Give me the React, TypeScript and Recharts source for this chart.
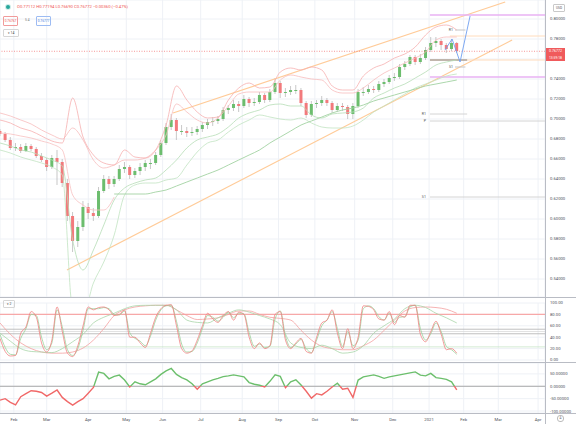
import React from 'react';
import {
  ComposedChart,
  Line,
  Bar,
  XAxis,
  YAxis,
  CartesianGrid,
  ReferenceLine
} from 'recharts';

const W = 576;
const FONT = 'Roboto, "Liberation Sans", sans-serif';

// 3-day candles, trading-day index t = 0, 3, ... 264 (late Jan 2020 -> late Jan 2021)
const opens = [
  0.688, 0.685, 0.679, 0.671, 0.672, 0.668, 0.673, 0.670, 0.663, 0.659,
  0.652, 0.661, 0.657, 0.636, 0.603, 0.578, 0.592, 0.612, 0.606, 0.603,
  0.628, 0.640, 0.635, 0.640, 0.650, 0.652, 0.644, 0.648, 0.652, 0.656,
  0.656, 0.664, 0.676, 0.692, 0.699, 0.688, 0.688, 0.686, 0.687, 0.690,
  0.694, 0.697, 0.698, 0.700, 0.709, 0.711, 0.715, 0.713, 0.720, 0.716,
  0.717, 0.724, 0.719, 0.727, 0.736, 0.726, 0.727, 0.729, 0.729, 0.716,
  0.704, 0.715, 0.716, 0.719, 0.716, 0.709, 0.713, 0.712, 0.705, 0.713,
  0.727, 0.727, 0.730, 0.729, 0.735, 0.737, 0.741, 0.742, 0.752, 0.755,
  0.762, 0.757, 0.761, 0.769, 0.776, 0.778, 0.774, 0.770, 0.776
];
const highs = [
  0.690, 0.687, 0.682, 0.676, 0.675, 0.676, 0.675, 0.672, 0.666, 0.661,
  0.664, 0.669, 0.660, 0.640, 0.607, 0.598, 0.618, 0.616, 0.611, 0.632,
  0.644, 0.643, 0.643, 0.654, 0.657, 0.654, 0.651, 0.656, 0.659, 0.660,
  0.667, 0.679, 0.696, 0.705, 0.701, 0.694, 0.692, 0.692, 0.693, 0.697,
  0.700, 0.702, 0.703, 0.712, 0.714, 0.719, 0.718, 0.724, 0.722, 0.721,
  0.727, 0.726, 0.730, 0.741, 0.738, 0.731, 0.733, 0.734, 0.731, 0.718,
  0.718, 0.719, 0.723, 0.721, 0.718, 0.716, 0.716, 0.714, 0.716, 0.730,
  0.732, 0.734, 0.733, 0.738, 0.740, 0.744, 0.746, 0.755, 0.758, 0.764,
  0.764, 0.765, 0.772, 0.782, 0.782, 0.780, 0.776, 0.780, 0.777
];
const lows = [
  0.683, 0.677, 0.669, 0.668, 0.666, 0.667, 0.668, 0.661, 0.657, 0.648,
  0.650, 0.634, 0.632, 0.598, 0.567, 0.572, 0.588, 0.600, 0.598, 0.601,
  0.626, 0.630, 0.632, 0.638, 0.646, 0.640, 0.641, 0.644, 0.648, 0.650,
  0.654, 0.662, 0.674, 0.689, 0.679, 0.684, 0.682, 0.683, 0.684, 0.687,
  0.690, 0.693, 0.695, 0.698, 0.705, 0.708, 0.707, 0.711, 0.712, 0.713,
  0.715, 0.716, 0.717, 0.725, 0.721, 0.722, 0.724, 0.725, 0.713, 0.701,
  0.702, 0.711, 0.713, 0.713, 0.706, 0.707, 0.708, 0.700, 0.700, 0.711,
  0.723, 0.725, 0.726, 0.727, 0.732, 0.735, 0.738, 0.740, 0.749, 0.753,
  0.754, 0.755, 0.759, 0.767, 0.772, 0.769, 0.766, 0.768, 0.766
];
const closes = [
  0.685, 0.679, 0.671, 0.672, 0.668, 0.673, 0.670, 0.663, 0.659, 0.652,
  0.661, 0.657, 0.636, 0.603, 0.578, 0.592, 0.612, 0.606, 0.603, 0.628,
  0.640, 0.635, 0.640, 0.650, 0.652, 0.644, 0.648, 0.652, 0.656, 0.656,
  0.664, 0.676, 0.692, 0.699, 0.688, 0.688, 0.686, 0.687, 0.690, 0.694,
  0.697, 0.698, 0.700, 0.709, 0.711, 0.715, 0.713, 0.720, 0.716, 0.717,
  0.724, 0.719, 0.727, 0.736, 0.726, 0.727, 0.729, 0.729, 0.716, 0.704,
  0.715, 0.716, 0.719, 0.716, 0.709, 0.713, 0.712, 0.705, 0.713, 0.727,
  0.727, 0.730, 0.729, 0.735, 0.737, 0.741, 0.742, 0.752, 0.755, 0.762,
  0.757, 0.761, 0.769, 0.776, 0.778, 0.774, 0.770, 0.776, 0.768
];

// band lines, one value every 6 trading days (t = 0, 6, ... 264)
const upperA = [
  0.706, 0.703, 0.699, 0.695, 0.689, 0.684, 0.680, 0.691, 0.679, 0.659,
  0.651, 0.654, 0.659, 0.659, 0.661, 0.669, 0.684, 0.715, 0.707, 0.699,
  0.696, 0.701, 0.713, 0.725, 0.727, 0.727, 0.727, 0.739, 0.744, 0.742,
  0.740, 0.739, 0.729, 0.726, 0.726, 0.731, 0.739, 0.746, 0.751, 0.756,
  0.761, 0.767, 0.779, 0.782, 0.782
];
const upperB = [
  0.699, 0.696, 0.691, 0.688, 0.683, 0.678, 0.676, 0.721, 0.682, 0.664,
  0.656, 0.654, 0.669, 0.662, 0.661, 0.669, 0.694, 0.733, 0.719, 0.707,
  0.701, 0.702, 0.719, 0.731, 0.736, 0.731, 0.732, 0.747, 0.751, 0.749,
  0.752, 0.749, 0.733, 0.729, 0.729, 0.743, 0.751, 0.755, 0.761, 0.765,
  0.772, 0.784, 0.792, 0.794, 0.789
];
// t = 0 .. 66
const midRed = [0.686, 0.685, 0.683, 0.681, 0.678, 0.675, 0.669, 0.624, 0.614, 0.609, 0.609, 0.622];
const lowerA = [
  0.676, 0.673, 0.669, 0.667, 0.663, 0.659, 0.653, 0.579, 0.549, 0.569,
  0.594, 0.619, 0.631, 0.636, 0.639, 0.641, 0.649, 0.659, 0.671, 0.679,
  0.682, 0.685, 0.692, 0.701, 0.706, 0.709, 0.714, 0.715, 0.713, 0.713,
  0.704, 0.701, 0.705, 0.706, 0.707, 0.711, 0.721, 0.726, 0.731, 0.735,
  0.741, 0.747, 0.754, 0.757, 0.759
];
const lowerB = [
  0.669, 0.666, 0.662, 0.659, 0.656, 0.652, 0.644, 0.510, 0.505, 0.536,
  0.557, 0.584, 0.624, 0.634, 0.636, 0.636, 0.639, 0.641, 0.654, 0.667,
  0.676, 0.679, 0.687, 0.694, 0.699, 0.704, 0.702, 0.700, 0.699, 0.701,
  0.696, 0.692, 0.691, 0.691, 0.693, 0.699, 0.707, 0.713, 0.719, 0.725,
  0.731, 0.735, 0.739, 0.743, 0.745
];
// t = 66 .. 264
const longAvg = [
  0.625, 0.625, 0.625, 0.625, 0.627, 0.629, 0.633, 0.637, 0.641, 0.645,
  0.649, 0.654, 0.659, 0.664, 0.669, 0.676, 0.682, 0.688, 0.694, 0.698,
  0.702, 0.706, 0.709, 0.711, 0.714, 0.718, 0.721, 0.724, 0.727, 0.730,
  0.733, 0.735, 0.737, 0.739
];

// stochastic pane, fast lines every 3 days, slow lines every 6 days
const kRed = [
  38, 15, 7, 8, 47, 58, 85, 75, 30, 14,
  35, 93, 50, 12, 6, 25, 60, 93, 88, 92,
  93, 88, 78, 80, 88, 40, 40, 30, 22, 47,
  75, 90, 96, 97, 60, 20, 12, 16, 35, 60,
  82, 72, 66, 78, 85, 70, 84, 80, 40, 20,
  30, 20, 25, 80, 85, 35, 20, 30, 38, 15,
  12, 40, 65, 70, 88, 47, 20, 55, 20, 40,
  95, 94, 88, 72, 70, 85, 62, 78, 75, 96,
  96, 45, 32, 50, 68, 45, 18, 20, 12
];
const kGreen = [
  45, 22, 10, 9, 38, 55, 80, 78, 40, 18,
  30, 88, 58, 18, 8, 20, 52, 90, 90, 90,
  92, 90, 80, 79, 86, 48, 38, 33, 25, 42,
  70, 88, 95, 96, 68, 28, 14, 15, 30, 55,
  78, 75, 68, 75, 84, 74, 82, 81, 48, 24,
  28, 22, 24, 72, 86, 42, 22, 28, 36, 20,
  13, 35, 60, 70, 85, 55, 24, 50, 25, 35,
  90, 95, 90, 76, 70, 82, 66, 75, 76, 93,
  96, 55, 35, 46, 65, 50, 24, 18, 10
];
const dRed = [
  65, 45, 30, 20, 14, 12, 12, 14, 21, 35,
  55, 78, 88, 93, 95, 96, 96, 88, 78, 71,
  72, 74, 80, 86, 86, 80, 75, 73, 70, 52,
  35, 24, 20, 18, 18, 25, 35, 52, 70, 86,
  92, 93, 92, 89, 82
];
const dGreen = [
  47, 33, 20, 15, 14, 13, 20, 32, 45, 65,
  75, 82, 90, 95, 96, 96, 96, 88, 70, 66,
  65, 74, 82, 88, 84, 78, 72, 62, 30, 22,
  20, 26, 20, 12, 14, 25, 47, 60, 72, 90,
  96, 92, 82, 74, 65
];

// momentum pane, every 3 days
const momentum = [
  -56, -50, -65, -75, -42, -30, -18, -20, -25, -40,
  -28, -15, -45, -62, -76, -62, -50, -28, -5, 57,
  52, 30, 40, 45, 25, -3, 18, 10, 6, 18,
  30, 48, 62, 72, 48, 35, 26, 10, -12, 10,
  18, 26, 32, 39, 42, 46, 42, 38, 15, 8,
  4, -3, 20, 46, 40, -6, 18, 26, 5, -20,
  -48, -30, -35, -20, -3, 12, -12, -8, -45, 25,
  38, 42, 46, 40, 32, 38, 42, 46, 50, 54,
  58, 45, 42, 52, 35, 32, 28, 18, -15
];

const monthTicks = [8, 27, 51, 73, 94, 116, 140, 161, 182, 205, 227, 248, 268, 288, 311];
const monthLabels = ['Feb', 'Mar', 'Apr', 'May', 'Jun', 'Jul', 'Aug', 'Sep', 'Oct', 'Nov', 'Dec', '2021', 'Feb', 'Mar', 'Apr'];
const priceTicks = [0.54, 0.56, 0.58, 0.6, 0.62, 0.64, 0.66, 0.68, 0.7, 0.72, 0.74, 0.76, 0.78, 0.8];
const oscTicks = [0, 20, 40, 60, 80, 100];
const momTicks = [-100, -50, 0, 50];
const lastPrice = 0.76772;

const priceRows = closes.map((close, i) => {
  const even = i % 2 === 0;
  const j = i / 2;
  return {
    t: i * 3,
    open: opens[i],
    high: highs[i],
    low: lows[i],
    close,
    upperA: even ? upperA[j] : null,
    upperB: even ? upperB[j] : null,
    midRed: even && j < midRed.length ? midRed[j] : null,
    lowerA: even ? lowerA[j] : null,
    lowerB: even ? lowerB[j] : null,
    longAvg: even && j >= 11 ? longAvg[j - 11] : null
  };
});

const oscRows = kRed.map((k, i) => ({
  t: i * 3,
  kRed: k,
  kGreen: kGreen[i],
  dRed: i % 2 === 0 ? dRed[i / 2] : null,
  dGreen: i % 2 === 0 ? dGreen[i / 2] : null
}));

const momRows = momentum.map((m, i) => ({ t: i * 3, mom: m }));
const momMax = Math.max(...momentum);
const momMin = Math.min(...momentum);
const zeroOffset = momMax / (momMax - momMin);

const candleRange = (d: any) => [d.low, d.high];

const Candle = (props: any) => {
  const { x, y, width, height, payload } = props;
  if (!payload || payload.high == null) return null;
  const top = Math.min(y, y + height);
  const h = Math.abs(height);
  const k = h / (payload.high - payload.low);
  const yo = top + (payload.high - payload.open) * k;
  const yc = top + (payload.high - payload.close) * k;
  const up = payload.close >= payload.open;
  const cx = x + width / 2;
  return (
    <g>
      <line x1={cx} x2={cx} y1={top} y2={top + h} stroke="#b0b0b0" strokeWidth={0.7} />
      <rect x={x} y={Math.min(yo, yc)} width={width} height={Math.max(1, Math.abs(yc - yo))} fill={up ? '#6cbd6e' : '#f27a7c'} />
    </g>
  );
};

const axisTick = { fontSize: 4.2, fill: '#4c4f58', fontFamily: FONT };
const lineProps = { type: 'monotone' as const, dot: false, activeDot: false, connectNulls: true, isAnimationActive: false };

const App: React.FC = () => {
  return (
    <div style={{ position: 'relative', width: W, height: 424, background: '#fff', fontFamily: FONT, overflow: 'hidden' }}>
      <style>{'body{margin:0}'}</style>

      {/* Price pane */}
      <div style={{ position: 'absolute', left: 0, top: 0 }}>
        <ComposedChart width={W} height={297} data={priceRows} margin={{ top: 0, right: 0, bottom: 0, left: 0 }}>
          <CartesianGrid stroke="#eef1f6" />
          <XAxis type="number" dataKey="t" domain={[0, 315]} ticks={monthTicks} hide allowDataOverflow />
          <YAxis
            orientation="right"
            width={31}
            domain={[0.522, 0.819]}
            ticks={priceTicks}
            interval={0}
            allowDataOverflow
            tick={axisTick}
            tickFormatter={(v: number) => (v === 0.76 ? '' : v.toFixed(5))}
            tickLine={false}
            tickSize={3}
            axisLine={false}
          />

          {/* trend channel */}
          <ReferenceLine segment={[{ x: 100, y: 0.706 }, { x: 292, y: 0.817 }]} stroke="#ffcb98" strokeWidth={1.2} ifOverflow="visible" />
          <ReferenceLine segment={[{ x: 38.7, y: 0.549 }, { x: 296, y: 0.779 }]} stroke="#ffcb98" strokeWidth={1.2} ifOverflow="visible" />

          {/* levels */}
          <ReferenceLine segment={[{ x: 248.5, y: 0.804 }, { x: 315, y: 0.804 }]} stroke="#e9b2f3" strokeWidth={1.5} ifOverflow="visible" />
          <ReferenceLine segment={[{ x: 248.5, y: 0.742 }, { x: 315, y: 0.742 }]} stroke="#e9b2f3" strokeWidth={1.5} ifOverflow="visible" />
          <ReferenceLine segment={[{ x: 260, y: 0.783 }, { x: 315, y: 0.783 }]} stroke="#ffdcbc" strokeWidth={1} ifOverflow="visible" />
          <ReferenceLine segment={[{ x: 248.5, y: 0.759 }, { x: 315, y: 0.759 }]} stroke="#ffdcbc" strokeWidth={1.1} ifOverflow="visible" />
          <ReferenceLine segment={[{ x: 248.5, y: 0.759 }, { x: 270, y: 0.759 }]} stroke="#666" strokeWidth={0.8} ifOverflow="visible" />
          <ReferenceLine segment={[{ x: 263, y: 0.789 }, { x: 269, y: 0.789 }]} stroke="#c4c4c4" ifOverflow="visible"
            label={{ value: 'R1', position: 'left', fontSize: 3.6, fill: '#555', offset: 2 }} />
          <ReferenceLine segment={[{ x: 263, y: 0.752 }, { x: 269, y: 0.752 }]} stroke="#c4c4c4" ifOverflow="visible"
            label={{ value: 'S1', position: 'left', fontSize: 3.6, fill: '#555', offset: 2 }} />
          <ReferenceLine segment={[{ x: 248.5, y: 0.705 }, { x: 270, y: 0.705 }]} stroke="#d4d4d4" ifOverflow="visible"
            label={{ value: 'R1', position: 'left', fontSize: 3.6, fill: '#555', offset: 4 }} />
          <ReferenceLine segment={[{ x: 248.5, y: 0.698 }, { x: 315, y: 0.698 }]} stroke="#d4d4d4" ifOverflow="visible"
            label={{ value: 'P', position: 'left', fontSize: 3.6, fill: '#555', offset: 4 }} />
          <ReferenceLine segment={[{ x: 248.5, y: 0.622 }, { x: 315, y: 0.622 }]} stroke="#d4d4d4" ifOverflow="visible"
            label={{ value: 'S1', position: 'left', fontSize: 3.6, fill: '#555', offset: 4 }} />
          <ReferenceLine y={lastPrice} stroke="#f06a6a" strokeDasharray="1 1.5" strokeWidth={0.7} />

          {/* bands */}
          <Line {...lineProps} dataKey="upperA" stroke="#f7bcbc" strokeWidth={0.8} />
          <Line {...lineProps} dataKey="upperB" stroke="#f6b0b0" strokeWidth={0.8} />
          <Line {...lineProps} dataKey="midRed" stroke="#f7c0c0" strokeWidth={0.8} />
          <Line {...lineProps} dataKey="lowerA" stroke="#b6ddb6" strokeWidth={0.8} />
          <Line {...lineProps} dataKey="lowerB" stroke="#c2e3c2" strokeWidth={0.8} />
          <Line {...lineProps} dataKey="longAvg" stroke="#a3d3a3" strokeWidth={0.9} />

          <Bar dataKey={candleRange} shape={Candle} barSize={3} isAnimationActive={false} />

          {/* projection drawing */}
          <ReferenceLine segment={[{ x: 257.2, y: 0.769 }, { x: 261.3, y: 0.78 }]} stroke="#6f9ff0" strokeWidth={0.9} ifOverflow="visible" />
          <ReferenceLine segment={[{ x: 261.3, y: 0.78 }, { x: 265.9, y: 0.757 }]} stroke="#6f9ff0" strokeWidth={0.9} ifOverflow="visible" />
          <ReferenceLine segment={[{ x: 265.9, y: 0.757 }, { x: 271.7, y: 0.803 }]} stroke="#6f9ff0" strokeWidth={0.9} ifOverflow="visible" />
        </ComposedChart>
      </div>

      {/* Stochastic pane */}
      <div style={{ position: 'absolute', left: 0, top: 298 }}>
        <ComposedChart width={W} height={64} data={oscRows} margin={{ top: 5, right: 0, bottom: 2, left: 0 }}>
          <CartesianGrid stroke="#eef1f6" />
          <XAxis type="number" dataKey="t" domain={[0, 315]} ticks={monthTicks} hide allowDataOverflow />
          <YAxis
            orientation="right"
            width={31}
            domain={[0, 100]}
            ticks={oscTicks}
            interval={0}
            allowDataOverflow
            tick={axisTick}
            tickFormatter={(v: number) => v.toFixed(2)}
            tickLine={false}
            tickSize={3}
            axisLine={false}
          />
          <ReferenceLine y={80} stroke="#f7a8a8" strokeWidth={1.3} />
          <ReferenceLine y={54} stroke="#b0b0b0" strokeWidth={0.8} />
          <ReferenceLine y={50} stroke="#d6d6d6" strokeWidth={0.7} />
          <ReferenceLine y={46} stroke="#b0b0b0" strokeWidth={0.8} />
          <ReferenceLine y={23} stroke="#c0e3c0" strokeWidth={0.7} />
          <Line {...lineProps} dataKey="dRed" stroke="#f4a0a0" strokeWidth={0.8} />
          <Line {...lineProps} dataKey="dGreen" stroke="#a9d6a9" strokeWidth={0.8} />
          <Line {...lineProps} dataKey="kGreen" stroke="#9ad09a" strokeWidth={0.8} />
          <Line {...lineProps} dataKey="kRed" stroke="#f08080" strokeWidth={0.8} />
        </ComposedChart>
      </div>

      {/* Momentum pane with time axis */}
      <div style={{ position: 'absolute', left: 0, top: 363 }}>
        <ComposedChart width={W} height={61} data={momRows} margin={{ top: 0, right: 0, bottom: 0, left: 0 }}>
          <defs>
            <linearGradient id="momGrad" x1="0" y1="0" x2="0" y2="1">
              <stop offset={zeroOffset} stopColor="#6cbf6c" />
              <stop offset={zeroOffset} stopColor="#f06868" />
            </linearGradient>
          </defs>
          <CartesianGrid stroke="#eef1f6" />
          <XAxis
            type="number"
            dataKey="t"
            domain={[0, 315]}
            ticks={monthTicks}
            interval={0}
            allowDataOverflow
            height={11}
            tick={axisTick}
            tickFormatter={(v: number) => monthLabels[monthTicks.indexOf(v)]}
            tickLine={false}
            tickSize={3}
            axisLine={false}
          />
          <YAxis
            orientation="right"
            width={31}
            domain={[-108, 94]}
            ticks={momTicks}
            interval={0}
            allowDataOverflow
            tick={axisTick}
            tickFormatter={(v: number) => v.toFixed(5)}
            tickLine={false}
            tickSize={3}
            axisLine={false}
          />
          <ReferenceLine y={0} stroke="#a8a8a8" strokeWidth={1} />
          <Line type="linear" dataKey="mom" stroke="url(#momGrad)" strokeWidth={1.4} dot={false} activeDot={false} isAnimationActive={false} />
        </ComposedChart>
      </div>

      {/* pane borders */}
      <div style={{ position: 'absolute', left: 0, top: 297, width: W, height: 1.2, background: '#b9bcc4' }} />
      <div style={{ position: 'absolute', left: 0, top: 362, width: W, height: 1.2, background: '#b9bcc4' }} />
      <div style={{ position: 'absolute', left: 0, top: 413, width: W, height: 1, background: '#b9bcc4' }} />
      <div style={{ position: 'absolute', left: 545, top: 0, width: 1.2, height: 424, background: '#b9bcc4' }} />

      {/* legend rows */}
      <div style={{ position: 'absolute', left: 6, top: 5, width: 4, height: 4, borderRadius: 3, background: '#26a69a', boxShadow: '0 0 0 1px #cdece8' }} />
      <div style={{ position: 'absolute', left: 17, top: 4, fontSize: 4.2, color: '#ef5350', whiteSpace: 'nowrap', lineHeight: '6px' }}>
        O0.77112 H0.77194 L0.76690 C0.76772 −0.00360 (−0.47%)
      </div>
      <div style={{ position: 'absolute', left: 3, top: 16, width: 13, height: 8, border: '0.6px solid #f19b9b', borderRadius: 1, fontSize: 3.2, color: '#ef5350', lineHeight: '8px', textAlign: 'center' }}>0.76767</div>
      <div style={{ position: 'absolute', left: 25, top: 16, fontSize: 3.2, color: '#777', lineHeight: '8px' }}>5.4</div>
      <div style={{ position: 'absolute', left: 36, top: 16, width: 13, height: 8, border: '0.6px solid #9dbcf3', borderRadius: 1, fontSize: 3.2, color: '#3d7ae0', lineHeight: '8px', textAlign: 'center' }}>0.76777</div>
      <div style={{ position: 'absolute', left: 3, top: 29, width: 14, height: 6, border: '0.6px solid #d6d6d6', borderRadius: 1, fontSize: 3.4, color: '#444', lineHeight: '6px', textAlign: 'center' }}>▾ 14</div>
      <div style={{ position: 'absolute', left: 3, top: 300, width: 10, height: 6, border: '0.6px solid #d6d6d6', borderRadius: 1, fontSize: 3.4, color: '#444', lineHeight: '6px', textAlign: 'center' }}>▾ 2</div>

      {/* right scale labels */}
      <div style={{ position: 'absolute', left: 553, top: 4, width: 10, height: 6, border: '0.6px solid #c9c9c9', borderRadius: 1, fontSize: 3.2, color: '#555', lineHeight: '6px', textAlign: 'center' }}>USD</div>
      <div style={{ position: 'absolute', left: 546, top: 48, width: 19, height: 7, background: '#f05a5c', fontSize: 3.6, color: '#fff', lineHeight: '7px', textAlign: 'center' }}>0.76772</div>
      <div style={{ position: 'absolute', left: 546, top: 55, width: 19, height: 6, background: '#f05a5c', fontSize: 3.4, color: '#fff', lineHeight: '6px', textAlign: 'center' }}>13:59:18</div>
      <div style={{ position: 'absolute', left: 557, top: 415, width: 5, height: 5, borderRadius: 3, border: '0.6px solid #bbb', fontSize: 3, color: '#666', lineHeight: '5px', textAlign: 'center' }}>A</div>
    </div>
  );
};

export default App;
